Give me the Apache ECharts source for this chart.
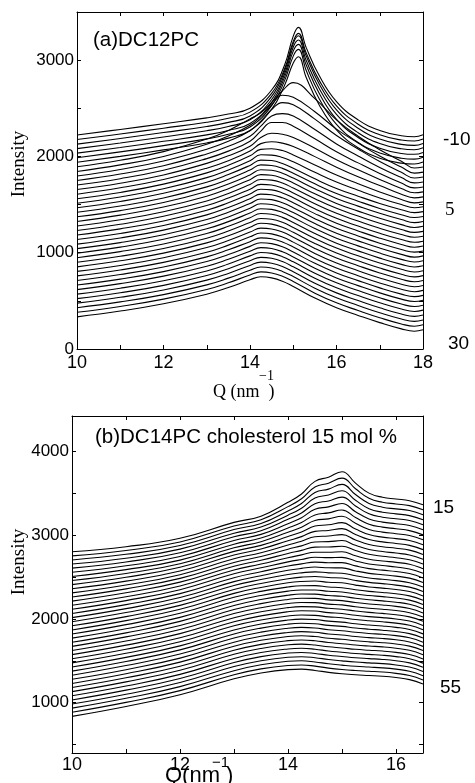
<!DOCTYPE html>
<html>
<head>
<meta charset="utf-8">
<script src="https://cdn.jsdelivr.net/npm/echarts@6/dist/echarts.min.js"></script>
<style>
html,body{margin:0;padding:0;background:#fff}
#main{width:475px;height:783px}
</style>
</head>
<body>
<div id="main"></div>
<script>
// (a) DC12PC, -10 .. 30 C, gel curves use a finer Q grid around the sharp peak
var qGelA = [10, 11, 12, 13, 13.5, 14, 14.5, 14.8, 15.0, 15.12, 15.3, 15.6, 16, 16.5, 17, 17.5, 17.8, 18];
var qFluidA = [10, 11, 12, 13, 13.5, 14, 14.25, 14.5, 14.75, 15, 15.5, 16, 16.5, 17, 17.5, 17.8, 18];
var tempsA = [-10,-9,-8,-7,-6,-5,-4,-3,-2,-1,0,1,2,3,4,5,6,7,8,9,10,11,12,13,14,15,16,17,18,19,20,21,22,23,24,25,26,27,28,29,30];
var gelA = [
  [2222, 2280, 2340, 2400, 2440, 2500, 2690, 2950, 3250, 3340, 3130, 2840, 2570, 2380, 2270, 2215, 2205, 2225],
  [2175, 2233, 2293, 2355, 2397, 2460, 2655, 2910, 3195, 3278, 3075, 2790, 2525, 2335, 2225, 2170, 2160, 2180],
  [2128, 2186, 2248, 2311, 2354, 2420, 2623, 2888, 3173, 3253, 3043, 2753, 2483, 2293, 2180, 2125, 2115, 2135],
  [2081, 2139, 2202, 2267, 2311, 2381, 2591, 2856, 3136, 3209, 2996, 2706, 2436, 2246, 2134, 2079, 2069, 2089],
  [2034, 2093, 2157, 2224, 2270, 2342, 2559, 2824, 3094, 3164, 2949, 2656, 2386, 2197, 2086, 2031, 2022, 2042],
  [1987, 2047, 2112, 2182, 2230, 2305, 2527, 2787, 3042, 3112, 2892, 2599, 2332, 2145, 2035, 1981, 1972, 1992],
  [1940, 2001, 2068, 2140, 2190, 2270, 2490, 2740, 2970, 3036, 2820, 2535, 2275, 2090, 1982, 1930, 1921, 1941]
];
var fluidA = [
  [1892, 1960, 2050, 2180, 2270, 2390, 2452, 2560, 2682, 2766, 2600, 2380, 2210, 2070, 1950, 1880, 1890],
  [1844, 1912, 2000, 2126, 2212, 2324, 2414, 2534, 2636, 2614, 2464, 2284, 2139, 2004, 1889, 1827, 1837],
  [1797, 1864, 1952, 2075, 2157, 2267, 2367, 2487, 2559, 2537, 2387, 2217, 2077, 1947, 1835, 1776, 1786],
  [1750, 1817, 1904, 2026, 2105, 2210, 2315, 2420, 2445, 2420, 2280, 2130, 2005, 1885, 1780, 1725, 1735],
  [1703, 1769, 1856, 1977, 2055, 2158, 2263, 2353, 2353, 2313, 2183, 2048, 1933, 1823, 1723, 1673, 1683],
  [1656, 1722, 1808, 1928, 2006, 2106, 2196, 2240, 2231, 2196, 2086, 1966, 1861, 1761, 1666, 1622, 1632],
  [1608, 1674, 1760, 1878, 1956, 2056, 2133, 2153, 2138, 2103, 1998, 1888, 1788, 1698, 1608, 1570, 1580],
  [1561, 1626, 1712, 1829, 1908, 2006, 2073, 2079, 2061, 2016, 1911, 1806, 1716, 1631, 1553, 1518, 1528],
  [1514, 1579, 1664, 1780, 1860, 1956, 2017, 2014, 1989, 1944, 1836, 1734, 1649, 1569, 1500, 1467, 1477],
  [1467, 1532, 1617, 1732, 1812, 1907, 1962, 1957, 1927, 1877, 1767, 1667, 1587, 1512, 1447, 1416, 1427],
  [1420, 1485, 1569, 1684, 1763, 1858, 1912, 1906, 1876, 1826, 1715, 1615, 1535, 1460, 1395, 1365, 1376],
  [1373, 1437, 1521, 1635, 1714, 1808, 1861, 1856, 1825, 1775, 1664, 1564, 1484, 1409, 1344, 1313, 1325],
  [1325, 1390, 1474, 1587, 1665, 1759, 1811, 1805, 1774, 1724, 1612, 1512, 1432, 1357, 1292, 1262, 1274],
  [1278, 1342, 1426, 1538, 1616, 1709, 1760, 1754, 1723, 1672, 1561, 1461, 1381, 1306, 1241, 1211, 1222],
  [1231, 1295, 1378, 1490, 1568, 1660, 1710, 1703, 1672, 1621, 1509, 1409, 1329, 1254, 1189, 1160, 1171],
  [1184, 1248, 1330, 1441, 1519, 1610, 1659, 1653, 1621, 1570, 1457, 1357, 1277, 1202, 1137, 1108, 1120],
  [1137, 1200, 1282, 1393, 1470, 1561, 1609, 1602, 1570, 1519, 1406, 1306, 1226, 1151, 1086, 1057, 1069],
  [1089, 1153, 1235, 1344, 1421, 1511, 1558, 1551, 1519, 1468, 1354, 1254, 1174, 1099, 1034, 1006, 1018],
  [1042, 1105, 1187, 1296, 1372, 1462, 1508, 1500, 1468, 1417, 1303, 1203, 1123, 1048, 983, 954, 967],
  [995, 1058, 1139, 1248, 1323, 1412, 1457, 1450, 1418, 1366, 1251, 1151, 1071, 996, 931, 903, 916],
  [948, 1011, 1091, 1199, 1274, 1363, 1407, 1399, 1367, 1314, 1199, 1099, 1019, 944, 879, 852, 864],
  [901, 963, 1043, 1151, 1225, 1313, 1356, 1348, 1316, 1263, 1148, 1048, 968, 893, 828, 800, 813],
  [853, 916, 996, 1102, 1176, 1264, 1306, 1297, 1265, 1212, 1096, 996, 916, 841, 776, 749, 762],
  [806, 868, 948, 1054, 1127, 1214, 1255, 1247, 1214, 1161, 1045, 945, 865, 790, 725, 698, 711],
  [759, 821, 900, 1005, 1079, 1165, 1205, 1196, 1163, 1110, 993, 893, 813, 738, 673, 647, 660],
  [712, 774, 852, 957, 1030, 1115, 1154, 1145, 1112, 1059, 941, 841, 761, 686, 621, 595, 609],
  [665, 726, 804, 908, 981, 1066, 1104, 1094, 1061, 1007, 890, 790, 710, 635, 570, 544, 557],
  [617, 679, 757, 860, 932, 1016, 1053, 1044, 1010, 956, 838, 738, 658, 583, 518, 493, 506],
  [570, 631, 709, 811, 883, 967, 1003, 993, 959, 905, 787, 687, 607, 532, 467, 441, 455],
  [523, 584, 661, 763, 834, 917, 952, 942, 908, 854, 735, 635, 555, 480, 415, 390, 404],
  [476, 537, 613, 715, 785, 868, 902, 891, 857, 803, 683, 583, 503, 428, 363, 339, 353],
  [429, 489, 565, 666, 736, 818, 851, 841, 806, 752, 632, 532, 452, 377, 312, 287, 302],
  [381, 442, 518, 618, 687, 769, 801, 790, 755, 701, 580, 480, 400, 325, 260, 236, 251],
  [334, 394, 470, 569, 638, 719, 750, 739, 704, 649, 529, 429, 349, 274, 209, 185, 199]
];

// (b) DC14PC + cholesterol 15 mol %, 15 .. 55 C
var qB = [10, 11, 12, 13, 13.5, 14, 14.25, 14.5, 14.75, 15, 15.25, 15.5, 15.75, 16, 16.25, 16.5];
var tempsB = [15,16,17,18,19,20,21,22,23,24,25,26,27,28,29,30,31,32,33,34,35,36,37,38,39,40,41,42,43,44,45,46,47,48,49,50,51,52,53,54,55];
var intensB = [
  [2801, 2861, 2961, 3151, 3225, 3390, 3490, 3640, 3690, 3755, 3620, 3500, 3450, 3430, 3410, 3360],
  [2752, 2816, 2918, 3108, 3182, 3339, 3433, 3574, 3619, 3679, 3552, 3438, 3391, 3371, 3351, 3301],
  [2703, 2770, 2875, 3065, 3138, 3288, 3377, 3507, 3548, 3604, 3483, 3377, 3332, 3312, 3292, 3241],
  [2654, 2724, 2832, 3022, 3095, 3237, 3320, 3441, 3478, 3528, 3415, 3315, 3272, 3253, 3232, 3182],
  [2605, 2679, 2789, 2979, 3052, 3187, 3264, 3374, 3407, 3452, 3347, 3253, 3213, 3194, 3173, 3122],
  [2556, 2633, 2745, 2935, 3008, 3136, 3207, 3308, 3336, 3376, 3278, 3192, 3154, 3135, 3114, 3063],
  [2506, 2587, 2701, 2891, 2964, 3084, 3150, 3240, 3264, 3299, 3209, 3129, 3094, 3075, 3053, 3002],
  [2457, 2541, 2658, 2848, 2921, 3033, 3093, 3174, 3193, 3224, 3140, 3067, 3035, 3016, 2994, 2943],
  [2408, 2496, 2615, 2805, 2877, 2982, 3037, 3107, 3122, 3148, 3072, 3006, 2975, 2957, 2935, 2884],
  [2359, 2450, 2571, 2761, 2833, 2932, 2981, 3044, 3055, 3077, 3007, 2946, 2918, 2900, 2877, 2826],
  [2310, 2404, 2527, 2717, 2789, 2881, 2926, 2980, 2988, 3005, 2942, 2887, 2860, 2843, 2820, 2768],
  [2261, 2358, 2483, 2673, 2744, 2831, 2871, 2917, 2921, 2934, 2877, 2827, 2803, 2785, 2762, 2710],
  [2212, 2311, 2438, 2628, 2699, 2780, 2817, 2856, 2857, 2867, 2815, 2770, 2747, 2730, 2706, 2654],
  [2163, 2264, 2393, 2583, 2654, 2730, 2763, 2795, 2794, 2800, 2753, 2712, 2691, 2674, 2651, 2599],
  [2114, 2218, 2348, 2538, 2609, 2680, 2709, 2735, 2730, 2734, 2691, 2655, 2636, 2619, 2595, 2543],
  [2065, 2170, 2301, 2491, 2562, 2630, 2656, 2677, 2670, 2671, 2632, 2599, 2581, 2565, 2541, 2488],
  [2015, 2122, 2254, 2444, 2515, 2579, 2602, 2618, 2609, 2608, 2572, 2543, 2526, 2510, 2486, 2433],
  [1966, 2075, 2208, 2398, 2469, 2529, 2549, 2561, 2549, 2545, 2514, 2488, 2472, 2456, 2431, 2379],
  [1917, 2027, 2161, 2351, 2422, 2479, 2498, 2506, 2493, 2487, 2458, 2435, 2420, 2403, 2379, 2326],
  [1868, 1979, 2114, 2304, 2375, 2430, 2446, 2451, 2437, 2430, 2403, 2381, 2367, 2351, 2327, 2274],
  [1819, 1931, 2067, 2257, 2328, 2380, 2395, 2396, 2380, 2372, 2347, 2328, 2315, 2299, 2274, 2221],
  [1770, 1882, 2018, 2208, 2279, 2331, 2345, 2345, 2329, 2321, 2296, 2278, 2265, 2249, 2224, 2171],
  [1721, 1833, 1970, 2160, 2231, 2282, 2296, 2295, 2278, 2269, 2246, 2228, 2215, 2199, 2174, 2121],
  [1672, 1785, 1921, 2111, 2182, 2232, 2246, 2244, 2227, 2218, 2195, 2177, 2165, 2149, 2124, 2071],
  [1623, 1736, 1873, 2063, 2133, 2183, 2196, 2194, 2176, 2167, 2144, 2127, 2115, 2099, 2074, 2021],
  [1574, 1687, 1824, 2014, 2085, 2134, 2146, 2143, 2126, 2115, 2094, 2077, 2065, 2049, 2024, 1971],
  [1524, 1638, 1775, 1965, 2036, 2085, 2097, 2093, 2075, 2064, 2043, 2027, 2015, 1999, 1974, 1921],
  [1475, 1589, 1727, 1917, 1987, 2035, 2047, 2042, 2024, 2013, 1992, 1977, 1965, 1949, 1924, 1871],
  [1426, 1541, 1678, 1868, 1939, 1986, 1997, 1992, 1973, 1961, 1941, 1927, 1915, 1899, 1874, 1821],
  [1377, 1492, 1630, 1820, 1890, 1937, 1947, 1941, 1922, 1910, 1891, 1877, 1865, 1849, 1824, 1771],
  [1328, 1443, 1581, 1771, 1842, 1888, 1898, 1891, 1871, 1859, 1840, 1826, 1816, 1800, 1775, 1722],
  [1279, 1394, 1532, 1722, 1793, 1838, 1848, 1840, 1820, 1807, 1789, 1776, 1766, 1750, 1725, 1672],
  [1230, 1345, 1484, 1674, 1744, 1789, 1798, 1789, 1769, 1756, 1739, 1726, 1716, 1700, 1675, 1622],
  [1181, 1297, 1435, 1625, 1696, 1740, 1748, 1739, 1718, 1704, 1688, 1676, 1666, 1650, 1625, 1572],
  [1132, 1248, 1387, 1577, 1647, 1691, 1699, 1688, 1667, 1653, 1637, 1626, 1616, 1600, 1575, 1522],
  [1083, 1199, 1338, 1528, 1598, 1641, 1649, 1638, 1617, 1602, 1587, 1576, 1566, 1550, 1525, 1472],
  [1033, 1150, 1289, 1479, 1550, 1592, 1599, 1587, 1566, 1551, 1536, 1526, 1516, 1500, 1475, 1422],
  [984, 1101, 1241, 1431, 1501, 1543, 1549, 1537, 1515, 1499, 1485, 1475, 1466, 1450, 1425, 1372],
  [935, 1053, 1192, 1382, 1452, 1494, 1500, 1486, 1464, 1448, 1434, 1425, 1416, 1400, 1375, 1322],
  [886, 1004, 1144, 1334, 1404, 1444, 1450, 1436, 1413, 1396, 1384, 1375, 1366, 1350, 1325, 1272],
  [837, 955, 1095, 1285, 1355, 1395, 1400, 1385, 1362, 1345, 1333, 1325, 1316, 1300, 1275, 1222]
];

// temperatures written at the right end of some curves
var sideA = [-10, 5, 30];
var sideB = [15, 55];

var ticksB = [500, 1000, 1500, 2000, 2500, 3000, 3500, 4000];
var labelsB = [1000, 2000, 3000, 4000];

var myChart = echarts.init(document.getElementById('main'));

var SANS = '"Liberation Sans", Arial, sans-serif';
var SERIF = '"Liberation Serif", "Times New Roman", serif';
var black = '#000';

function pairs(q, row) {
  return q.map(function (x, k) { return [x, row[k]]; });
}

// label offsets (px) for the end labels
var endOff = {
  'a-10': [20, 5], 'a5': [22, 3], 'a30': [25, 14],
  'b15': [10, 3], 'b55': [17, 4]
};

function makeLine(panel, t, data) {
  var s = {
    type: 'line',
    xAxisIndex: panel === 'a' ? 0 : 2,
    yAxisIndex: panel === 'a' ? 0 : 2,
    data: data,
    showSymbol: false,
    symbol: 'none',
    smooth: 0.45,
    silent: true,
    lineStyle: { color: black, width: 1.1 }
  };
  var list = panel === 'a' ? sideA : sideB;
  if (list.indexOf(t) >= 0) {
    s.endLabel = {
      show: true,
      formatter: String(t),
      distance: 0,
      offset: endOff[panel + t],
      color: black,
      fontSize: 19,
      fontFamily: (panel === 'a' && t === 5) ? SERIF : SANS
    };
  }
  return s;
}

var series = [];
tempsA.forEach(function (t, i) {
  var data = i < gelA.length ? pairs(qGelA, gelA[i]) : pairs(qFluidA, fluidA[i - gelA.length]);
  series.push(makeLine('a', t, data));
});
tempsB.forEach(function (t, i) {
  series.push(makeLine('b', t, pairs(qB, intensB[i])));
});

var axLine = { show: true, onZero: false, lineStyle: { color: black, width: 1 } };
var tick = { show: true, inside: true, length: 4, lineStyle: { color: black, width: 1 } };
var plain = function (v) { return String(v); };

var options = {
  animation: false,
  backgroundColor: '#fff',
  grid: [
    { left: 77, top: 12, right: 52, bottom: 434, outerBoundsMode: 'none' },
    { left: 72, top: 416, right: 52, bottom: 30, outerBoundsMode: 'none' }
  ],
  xAxis: [
    { gridIndex: 0, type: 'value', position: 'bottom', min: 10, max: 18, interval: 1,
      axisLine: axLine, axisTick: tick, splitLine: { show: false },
      axisLabel: { color: black, fontSize: 18, fontFamily: SANS, margin: 5,
        formatter: function (v) { return v % 2 === 0 ? v : ''; } } },
    { gridIndex: 0, type: 'value', position: 'top', min: 10, max: 18, interval: 1,
      axisLine: axLine, axisTick: tick, splitLine: { show: false }, axisLabel: { show: false } },
    { gridIndex: 1, type: 'value', position: 'bottom', min: 10, max: 16.5, interval: 1,
      axisLine: axLine, axisTick: tick, splitLine: { show: false },
      axisLabel: { color: black, fontSize: 18, fontFamily: SANS, margin: 3,
        formatter: function (v) { return v % 2 === 0 ? v : ''; } } },
    { gridIndex: 1, type: 'value', position: 'top', min: 10, max: 16.5, interval: 1,
      axisLine: axLine, axisTick: tick, splitLine: { show: false }, axisLabel: { show: false } }
  ],
  yAxis: [
    { gridIndex: 0, type: 'value', position: 'left', min: 0, max: 3500, interval: 500,
      axisLine: axLine, axisTick: tick, splitLine: { show: false },
      axisLabel: { color: black, fontSize: 17, fontFamily: SANS, margin: 3,
        formatter: function (v) { return v % 1000 === 0 ? String(v) : ''; } } },
    { gridIndex: 0, type: 'value', position: 'right', min: 0, max: 3500, interval: 500,
      axisLine: axLine, axisTick: tick, splitLine: { show: false }, axisLabel: { show: false } },
    { gridIndex: 1, type: 'value', position: 'left', min: 400, max: 4420,
      axisLine: axLine,
      axisTick: { show: true, inside: true, length: 4, lineStyle: { color: black, width: 1 }, customValues: ticksB },
      splitLine: { show: false },
      axisLabel: { color: black, fontSize: 17, fontFamily: SANS, margin: 3, customValues: labelsB, formatter: plain } },
    { gridIndex: 1, type: 'value', position: 'right', min: 400, max: 4420,
      axisLine: axLine,
      axisTick: { show: true, inside: true, length: 4, lineStyle: { color: black, width: 1 }, customValues: ticksB },
      splitLine: { show: false }, axisLabel: { show: false } }
  ],
  graphic: [
    { type: 'text', x: 93, y: 40, style: { text: '(a)DC12PC', font: '20.5px ' + SANS, fill: black, align: 'left', verticalAlign: 'middle' } },
    { type: 'text', x: 95, y: 437, style: { text: '(b)DC14PC cholesterol 15 mol %', font: '20.5px ' + SANS, fill: black, align: 'left', verticalAlign: 'middle' } },
    { type: 'text', x: 19, y: 164, rotation: Math.PI / 2, style: { text: 'Intensity', font: '19px ' + SERIF, fill: black, align: 'center', verticalAlign: 'middle' } },
    { type: 'text', x: 19, y: 562, rotation: Math.PI / 2, style: { text: 'Intensity', font: '19px ' + SERIF, fill: black, align: 'center', verticalAlign: 'middle' } },
    { type: 'text', x: 213, y: 383, style: { text: 'Q (nm  )', font: '18px ' + SERIF, fill: black, align: 'left', verticalAlign: 'top' } },
    { type: 'text', x: 259, y: 369, style: { text: '\u22121', font: '14px ' + SERIF, fill: black, align: 'left', verticalAlign: 'top' } },
    { type: 'text', x: 165, y: 765, style: { text: 'Q(nm )', font: '22px ' + SANS, fill: black, align: 'left', verticalAlign: 'top' } },
    { type: 'text', x: 212, y: 755, style: { text: '\u22121', font: '15px ' + SANS, fill: black, align: 'left', verticalAlign: 'top' } }
  ],
  series: series
};
myChart.setOption(options);
</script>
</body>
</html>
